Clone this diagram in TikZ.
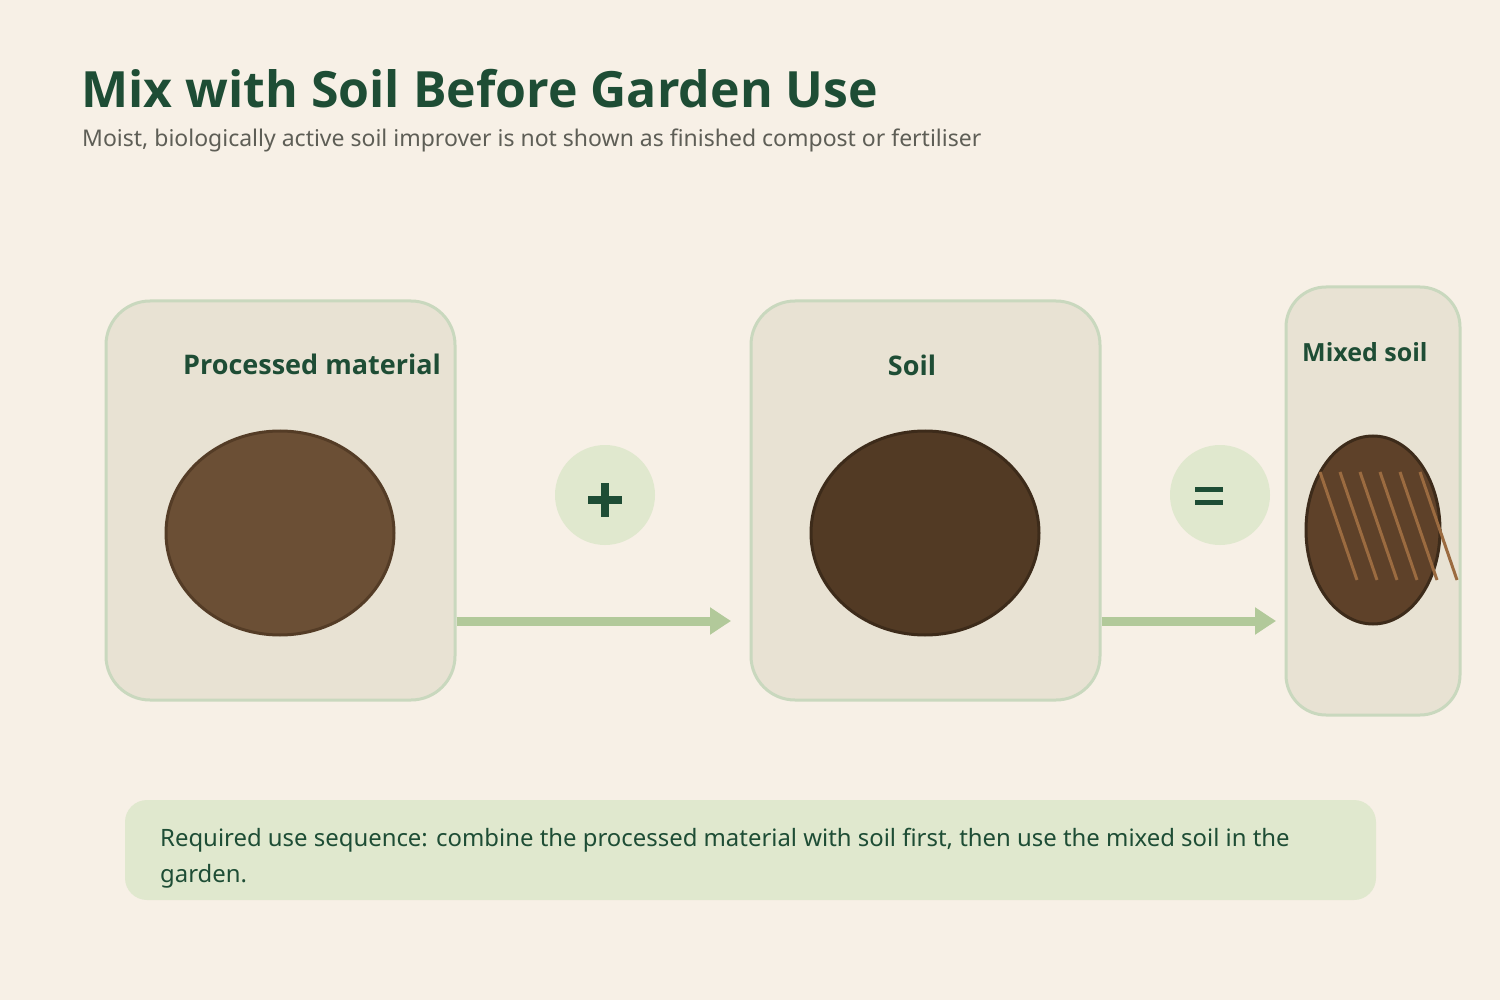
\documentclass[tikz,border=0pt]{standalone}
\usepackage{fontspec}
\setmainfont{Noto Sans}
\newfontfamily\headfont{Open Sans}
\usetikzlibrary{arrows.meta}
\definecolor{bg}{HTML}{F7F0E6}
\definecolor{boxfill}{HTML}{E8E2D3}
\definecolor{boxline}{HTML}{C9D8BE}
\definecolor{dkgreen}{HTML}{1E4D35}
\definecolor{subgrey}{HTML}{5E5E56}
\definecolor{palegreen}{HTML}{E0E8CE}
\definecolor{arrowgreen}{HTML}{B2C99A}
\definecolor{soilA}{HTML}{6B4F35}
\definecolor{soilAline}{HTML}{543C26}
\definecolor{soilB}{HTML}{523A24}
\definecolor{soilBline}{HTML}{3D2B1A}
\definecolor{soilC}{HTML}{5E4129}
\definecolor{streak}{HTML}{9B6B40}
\tikzset{
  panel/.style={draw=boxline, line width=3pt, fill=boxfill, rounded corners=44pt, rectangle},
  paneltitle/.style={font=\headfont\fontsize{27}{30}\selectfont\bfseries, text=dkgreen, inner sep=0pt, anchor=base},
  opcircle/.style={circle, fill=palegreen, minimum size=100pt, inner sep=0pt},
  flow/.style={draw=arrowgreen, line width=9pt, -{Triangle[length=21pt, width=26pt]}},
  streakline/.style={draw=streak, line width=3pt},
}
\begin{document}
\begin{tikzpicture}[x=1pt, y=-1pt]
\useasboundingbox (0,0) rectangle (1500,1000);
\fill[bg] (0,0) rectangle (1500,1000);

% title
\node[anchor=base west, inner sep=0pt, text=dkgreen, font=\headfont\fontsize{50}{56}\selectfont\bfseries] (title) at (81,108) {Mix with Soil Before Garden Use};
\node[anchor=base west, inner sep=0pt, text=subgrey, font=\fontsize{23}{26}\selectfont] (subtitle) at (82,147) {Moist, biologically active soil improver is not shown as finished compost or fertiliser};

% panels
\node[panel, minimum width=349pt, minimum height=399pt] (box1) at (280.5,500.5) {};
\node[panel, minimum width=349pt, minimum height=399pt] (box2) at (925.5,500.5) {};
\node[panel, minimum width=174pt, minimum height=428pt, rounded corners=40pt] (box3) at (1373,501) {};

\node[paneltitle] (lab1) at (312,374) {Processed material};
\node[paneltitle] (lab2) at (912,375) {Soil};
\node[paneltitle, anchor=base west, font=\headfont\fontsize{25}{30}\selectfont\bfseries] (lab3) at (1302,362) {Mixed soil};

% soil ellipses
\draw[fill=soilA, draw=soilAline, line width=3pt] (280,533) ellipse [x radius=114pt, y radius=102pt];
\draw[fill=soilB, draw=soilBline, line width=3pt] (925,533) ellipse [x radius=114pt, y radius=102pt];
\draw[fill=soilC, draw=soilBline, line width=3pt] (1373,530) ellipse [x radius=67pt, y radius=94pt];
\foreach \i in {0,...,5} {
  \draw[streakline] (1320+20*\i,472) -- (1357+20*\i,580);
}

% operators
\node[opcircle] (plus) at (605,495) {};
\fill[dkgreen] (588,496) rectangle (622,504);
\fill[dkgreen] (601,483) rectangle (609,517);
\node[opcircle] (equals) at (1220,495) {};
\fill[dkgreen] (1195,487) rectangle (1223,492);
\fill[dkgreen] (1195,500) rectangle (1223,505);

% arrows
\coordinate (a1s) at (box1.east |- 0,621);
\coordinate (a1e) at (731,621);
\coordinate (a2s) at (box2.east |- 0,621);
\coordinate (a2e) at (1276,621);
\draw[flow] (a1s) -- (a1e);
\draw[flow] (a2s) -- (a2e);

% bottom note
\fill[palegreen, rounded corners=22pt] (125,800) rectangle (1376,900);
\node[anchor=base west, inner sep=0pt, text=dkgreen, font=\fontsize{23.9}{36}\selectfont, align=left] (note) at (160,882) {Required use sequence: combine the processed material with soil first, then use the mixed soil in the\\garden.};
\end{tikzpicture}
\end{document}
